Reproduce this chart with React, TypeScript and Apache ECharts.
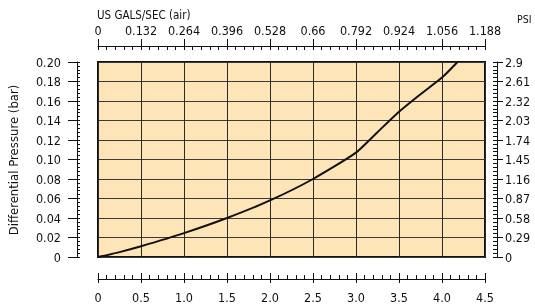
import React, { useEffect, useRef } from "react";
import * as echarts from "echarts";

const flowLps = [0, 0.25, 0.5, 1.0, 1.5, 2.0, 2.5, 3.0, 3.25, 3.5, 3.75, 4.0, 4.18];
const pressureBar = [0, 0.005, 0.011, 0.0245, 0.04, 0.058, 0.08, 0.107, 0.128, 0.149, 0.167, 0.184, 0.2];
const galsLabels = ["0", "0.132", "0.264", "0.396", "0.528", "0.66", "0.792", "0.924", "1.056", "1.188"];
const psiLabels = ["0", "0.29", "0.58", "0.87", "1.16", "1.45", "1.74", "2.03", "2.32", "2.61", "2.9"];

const FONT = "'DejaVu Sans Condensed', 'Liberation Sans Narrow', Roboto, sans-serif";
const INK = "#111";

export default function App() {
  const ref = useRef<HTMLDivElement>(null);
  useEffect(() => {
    document.body.style.margin = "0";
    const chart = echarts.init(ref.current!, null, { renderer: "svg" });
    const label = { color: INK, fontSize: 12.5, fontFamily: FONT };
    const line = { show: true, onZero: false, lineStyle: { color: INK, width: 1 } };
    const hidden = { show: false };
    const hiddenLine = { show: false, onZero: false };
    chart.setOption({
      animation: false,
      grid: {
        left: 98, top: 62, width: 387, height: 195,
        show: true, backgroundColor: "#FDE5B7", borderColor: "#111", borderWidth: 2,
      },
      graphic: [
        { type: "text", left: 97, top: 9, style: { text: "US GALS/SEC (air)", fill: INK, fontSize: 11.5, fontFamily: FONT } },
        { type: "text", left: 517, top: 13, style: { text: "PSI", fill: INK, fontSize: 10.5, fontFamily: FONT } },
        { type: "text", x: 13, y: 160, rotation: Math.PI / 2, style: { text: "Differential Pressure (bar)", fill: INK, fontSize: 13, fontFamily: FONT, align: "center", verticalAlign: "middle" } },
      ],
      xAxis: [
        {
          type: "value", position: "bottom", min: 0, max: 4.5, interval: 0.5, offset: 22,
          axisLine: line,
          axisTick: { show: true, inside: true, length: 6, lineStyle: { color: INK } },
          minorTick: { show: true, splitNumber: 5, length: 4, lineStyle: { color: INK } },
          axisLabel: { ...label, margin: 12, formatter: (v: number) => (v === 0 ? "0" : v.toFixed(1)) },
          splitLine: { show: true, lineStyle: { color: "#2a2a2a", width: 1 } },
        },
        {
          type: "value", position: "bottom", min: 0, max: 4.5, interval: 0.5, offset: 22,
          axisLine: hiddenLine, axisLabel: hidden, splitLine: hidden,
          axisTick: { show: true, inside: false, length: 4, lineStyle: { color: INK } },
        },
        {
          type: "value", position: "top", min: 0, max: 9, interval: 1, offset: 16,
          axisLine: line,
          axisTick: { show: true, inside: true, length: 4, lineStyle: { color: INK } },
          minorTick: { show: true, splitNumber: 5, length: 4, lineStyle: { color: INK } },
          axisLabel: { ...label, margin: 9, formatter: (v: number) => galsLabels[Math.round(v)] },
          splitLine: hidden,
        },
        {
          type: "value", position: "top", min: 0, max: 9, interval: 1, offset: 16,
          axisLine: hiddenLine, axisLabel: hidden, splitLine: hidden,
          axisTick: { show: true, inside: false, length: 7, lineStyle: { color: INK } },
        },
      ],
      yAxis: [
        {
          type: "value", position: "left", min: 0, max: 0.2, interval: 0.02, offset: 21,
          axisLine: line,
          axisTick: { show: true, inside: true, length: 3, lineStyle: { color: INK } },
          minorTick: { show: true, splitNumber: 5, length: 3, lineStyle: { color: INK } },
          axisLabel: { ...label, margin: 16, formatter: (v: number) => (v === 0 ? "0" : v.toFixed(2)) },
          splitLine: { show: true, lineStyle: { color: "#3a3a3a", width: 1 } },
        },
        {
          type: "value", position: "left", min: 0, max: 0.2, interval: 0.02, offset: 21,
          axisLine: hiddenLine, axisLabel: hidden, splitLine: hidden,
          axisTick: { show: true, inside: false, length: 9, lineStyle: { color: INK } },
        },
        {
          type: "value", position: "right", min: 0, max: 10, interval: 1, offset: 12,
          axisLine: line,
          axisTick: { show: true, inside: true, length: 4, lineStyle: { color: INK } },
          minorTick: { show: true, splitNumber: 5, length: 4, lineStyle: { color: INK } },
          axisLabel: { ...label, margin: 8, formatter: (v: number) => psiLabels[Math.round(v)] },
          splitLine: hidden,
        },
        {
          type: "value", position: "right", min: 0, max: 10, interval: 1, offset: 12,
          axisLine: hiddenLine, axisLabel: hidden, splitLine: hidden,
          axisTick: { show: true, inside: false, length: 6, lineStyle: { color: INK } },
        },
      ],
      series: [
        {
          type: "line", xAxisIndex: 0, yAxisIndex: 0, smooth: 0.2, symbol: "none",
          lineStyle: { color: "#111", width: 2 },
          data: flowLps.map((x, i) => [x, pressureBar[i]]),
        },
      ],
    });
    return () => chart.dispose();
  }, []);
  return <div ref={ref} style={{ position: "fixed", left: 0, top: 0, width: 535, height: 307 }} />;
}
